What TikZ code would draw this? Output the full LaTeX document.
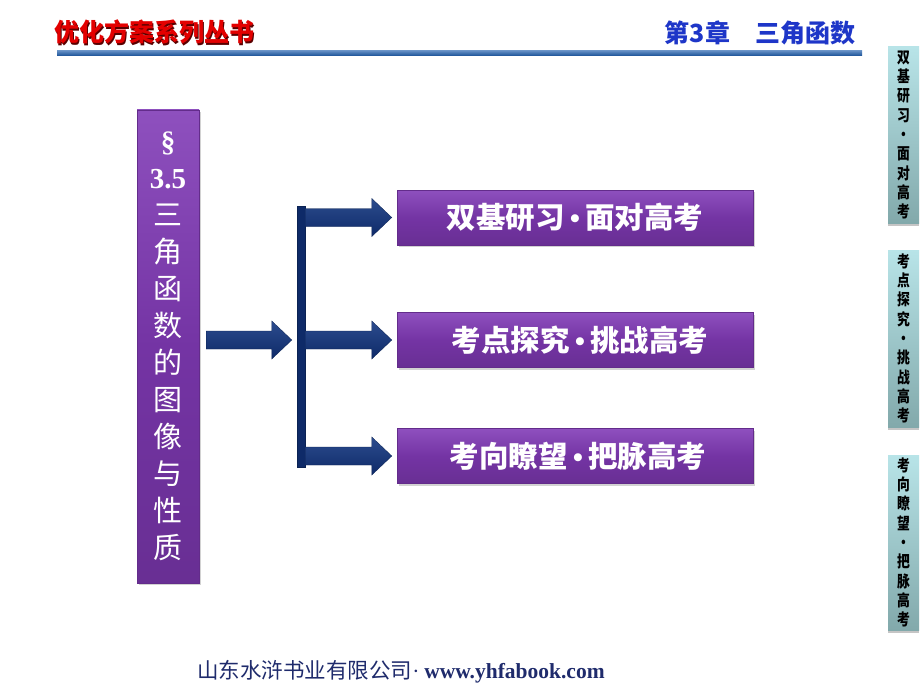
\documentclass[tikz,border=0pt]{standalone}
\usepackage{fontspec}
\setmainfont{Liberation Serif}
\newfontfamily\cjk{Noto Sans CJK SC}
\newfontfamily\cjkstretto{Noto Sans CJK SC}[FakeStretch=0.8]
\usetikzlibrary{positioning,shadows,calc}
\definecolor{viola}{HTML}{7434A4}
\definecolor{violachiaro}{HTML}{8E50BE}
\definecolor{blunotte}{HTML}{0E2A68}
\definecolor{blumedio}{HTML}{2C4C8E}
\definecolor{ciano}{HTML}{B8E4E8}
\definecolor{verdeacqua}{HTML}{82A9AB}
\definecolor{rosso}{HTML}{E30000}
\definecolor{blutitolo}{HTML}{1E36C8}
\definecolor{bluriga}{HTML}{1A58A6}
\definecolor{blupiede}{HTML}{1F2B6C}
\tikzset{
  scatola/.style={draw=viola!85!black,line width=0.4pt,
    top color=violachiaro,bottom color=viola!90!black,middle color=viola,
    drop shadow={opacity=0.35,shadow xshift=1.5pt,shadow yshift=-2pt},
    text=white,inner sep=0pt},
  voce/.style={scatola,minimum width=356pt,minimum height=55pt,
    font=\cjk\bfseries\fontsize{29.5}{30}\selectfont},
  linguetta/.style={top color=ciano,bottom color=verdeacqua,minimum width=31pt,
    inner sep=0pt,align=center,font=\cjkstretto\bfseries\fontsize{16}{19.3}\selectfont,
    drop shadow={opacity=0.45,shadow xshift=0pt,shadow yshift=-2.5pt,fill=gray}},
  freccia/.style={top color=blumedio,bottom color=blunotte,draw=blunotte!80!black,line width=0.3pt},
  barra/.style={fill=blunotte,draw=blunotte!80!black,minimum width=8pt,minimum height=261pt,inner sep=0pt}
}
\newcommand\latino[1]{{\rmfamily\bfseries #1}}
\newcommand\punto{{\rmfamily\bfseries\,•\,}}
\newcommand\ombrato[2]{\rlap{\hspace{1.8pt}\raisebox{-1.8pt}{\color{#1}#2}}#2}
\newcommand\frecciona[2]{%
  \shade[freccia] let \p1=#1, \p2=#2 in
    (\x1,\y1-9pt) -- (\x2-20pt,\y1-9pt) -- (\x2-20pt,\y1-19pt) -- (\x2,\y1)
    -- (\x2-20pt,\y1+19pt) -- (\x2-20pt,\y1+9pt) -- (\x1,\y1+9pt) -- cycle;}
\begin{document}
\begin{tikzpicture}[x=1pt,y=-1pt]
\useasboundingbox[fill=white] (0,0) rectangle (920,690);
\node[font=\cjk\bfseries\fontsize{25}{25}\selectfont,text=rosso] (testata) at (154,33)
  {\ombrato{black!65!red}{优化方案系列丛书}};
\node[font=\cjk\bfseries\fontsize{25}{25}\selectfont,text=blutitolo] (capitolo) at (760,33) {第3章　三角函数};
\shade[top color=bluriga!70!white,bottom color=bluriga!90!black] (57,51) rectangle (862,56);
\node[linguetta,minimum height=176pt] (t1) at (903.5,135) {双\\基\\研\\习\\•\\面\\对\\高\\考};
\node[linguetta,minimum height=177pt] (t2) at (903.5,338.5) {考\\点\\探\\究\\•\\挑\\战\\高\\考};
\node[linguetta,minimum height=175pt] (t3) at (903.5,542.5) {考\\向\\瞭\\望\\•\\把\\脉\\高\\考};
\node[scatola,minimum width=62pt,minimum height=473pt,align=center,
  font=\cjk\fontsize{29}{37}\selectfont] (sez) at (168,346.5)
  {\latino{§}\\\latino{3.5}\\三\\角\\函\\数\\的\\图\\像\\与\\性\\质};
\node[barra] (barra) at (301,336.5) {};
\node[voce] (b1) at (575,217.5) {双基研习\punto 面对高考};
\node[voce] (b2) at (575,340) {\hspace{10pt}考点探究\punto 挑战高考};
\node[voce] (b3) at (575,456) {\hspace{6pt}考向瞭望\punto 把脉高考};
\frecciona{($(sez.east |- b2.west)+(7,0)$)}{($(barra.west |- b2.west)+(-5,0)$)}
\foreach \b in {b1,b2,b3}
  \frecciona{(barra.east |- \b.west)}{($(\b.west)+(-5,0)$)};
\node[text=blupiede,font=\cjk\fontsize{21.5}{22}\selectfont] (piede) at (401,672)
  {山东水浒书业有限公司{\rmfamily ·} \latino{www.yhfabook.com}};
\end{tikzpicture}
\end{document}
